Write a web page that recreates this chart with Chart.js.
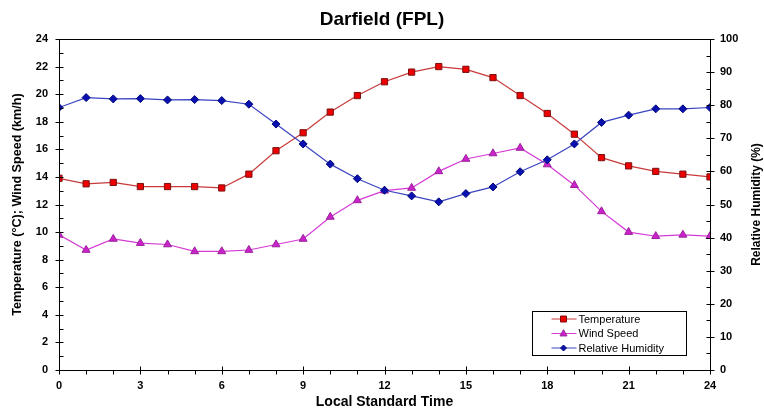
<!DOCTYPE html>
<html>
<head>
<meta charset="utf-8">
<script src="https://cdn.jsdelivr.net/npm/chart.js@4/dist/chart.umd.min.js"></script>
<style>
  html, body { margin: 0; padding: 0; background: #fff; }
  #wrap { width: 764px; height: 409px; position: relative; }
</style>
</head>
<body>
<div id="wrap"><canvas id="c" width="764" height="409"></canvas></div>
<script>
// Hourly readings, Darfield (FPL)
const hours = [0, 1, 2, 3, 4, 5, 6, 7, 8, 9, 10, 11, 12, 13, 14, 15, 16, 17, 18, 19, 20, 21, 22, 23, 24];
const temperature = [13.9, 13.5, 13.6, 13.3, 13.3, 13.3, 13.2, 14.2, 15.9, 17.2, 18.7, 19.9, 20.9, 21.6, 22.0, 21.8, 21.2, 19.9, 18.6, 17.1, 15.4, 14.8, 14.4, 14.2, 14.0];
const windSpeed = [9.8, 8.7, 9.5, 9.2, 9.1, 8.6, 8.6, 8.7, 9.1, 9.5, 11.1, 12.3, 13.0, 13.2, 14.4, 15.3, 15.7, 16.1, 14.9, 13.4, 11.5, 10.0, 9.7, 9.8, 9.7];
const humidity = [79.3, 82.3, 81.9, 82.0, 81.6, 81.7, 81.4, 80.3, 74.3, 68.3, 62.2, 57.8, 54.3, 52.6, 50.8, 53.3, 55.3, 59.9, 63.5, 68.3, 74.8, 77.0, 78.9, 78.9, 79.3];

const leftTicks = [0, 2, 4, 6, 8, 10, 12, 14, 16, 18, 20, 22, 24];
const rightTicks = [0, 10, 20, 30, 40, 50, 60, 70, 80, 90, 100];
const timeTicks = [0, 3, 6, 9, 12, 15, 18, 21, 24];

const FONT = 'Arial, "Liberation Sans", sans-serif';
const RIGHT_TITLE = 'Relative Humidity (%)';

function pts(values) {
  return hours.map((h, i) => ({ x: h, y: values[i] }));
}

// Draws one legend marker shape
function marker(ctx, style, x, y, r, fill, stroke) {
  ctx.beginPath();
  if (style === 'rect') {
    ctx.rect(x - r, y - r, 2 * r, 2 * r);
  } else if (style === 'triangle') {
    ctx.moveTo(x, y - r * 1.1);
    ctx.lineTo(x + r, y + r * 0.7);
    ctx.lineTo(x - r, y + r * 0.7);
    ctx.closePath();
  } else {
    ctx.moveTo(x, y - r);
    ctx.lineTo(x + r, y);
    ctx.lineTo(x, y + r);
    ctx.lineTo(x - r, y);
    ctx.closePath();
  }
  ctx.fillStyle = fill;
  ctx.fill();
  ctx.lineWidth = 1;
  ctx.strokeStyle = stroke;
  ctx.stroke();
}

// Plot frame, major/minor tick marks, right axis title and the boxed legend
const frame = {
  id: 'frame',
  afterDatasetsDraw(chart) {
    const { ctx, chartArea: a, scales } = chart;
    const L = Math.round(a.left) + 0.5, R = Math.round(a.right) + 0.5;
    const T = Math.round(a.top) + 0.5, B = Math.round(a.bottom) + 0.5;
    ctx.save();
    ctx.strokeStyle = '#000';
    ctx.lineWidth = 1;
    ctx.beginPath();
    ctx.moveTo(L, T); ctx.lineTo(R, T);
    ctx.moveTo(L, B); ctx.lineTo(R, B);
    ctx.moveTo(L, T); ctx.lineTo(L, B);
    ctx.moveTo(R, T); ctx.lineTo(R, B);
    // left axis: major every 2, minor every 1
    for (let v = 0; v <= 24; v++) {
      const p = Math.round(scales.y.getPixelForValue(v)) + 0.5;
      if (v % 2 === 0) { ctx.moveTo(L - 4, p); ctx.lineTo(L + 4, p); }
      else { ctx.moveTo(L, p); ctx.lineTo(L + 4, p); }
    }
    // right axis: major every 10, minor every 5
    for (let v = 0; v <= 100; v += 5) {
      const p = Math.round(scales.y1.getPixelForValue(v)) + 0.5;
      if (v % 10 === 0) { ctx.moveTo(R - 4, p); ctx.lineTo(R + 4, p); }
      else { ctx.moveTo(R - 4, p); ctx.lineTo(R, p); }
    }
    // time axis: major every 3, minor every 1
    for (let v = 0; v <= 24; v++) {
      const p = Math.round(scales.x.getPixelForValue(v)) + 0.5;
      if (v % 3 === 0) { ctx.moveTo(p, B - 4); ctx.lineTo(p, B + 4); }
      else { ctx.moveTo(p, B); ctx.lineTo(p, B + 4); }
    }
    ctx.stroke();

    // right axis title, reading bottom to top
    ctx.save();
    ctx.translate(757, (a.top + a.bottom) / 2);
    ctx.rotate(-Math.PI / 2);
    ctx.font = 'bold 12px ' + FONT;
    ctx.fillStyle = '#000';
    ctx.textAlign = 'center';
    ctx.textBaseline = 'middle';
    ctx.fillText(RIGHT_TITLE, 0, 0);
    ctx.restore();

    // legend
    const bx = 532.5, by = 311.5, bw = 154, bh = 44;
    ctx.fillStyle = '#fff';
    ctx.fillRect(bx, by, bw, bh);
    ctx.strokeStyle = '#000';
    ctx.strokeRect(bx, by, bw, bh);
    ctx.font = '11px ' + FONT;
    ctx.textBaseline = 'middle';
    chart.data.datasets.forEach((ds, i) => {
      const y = by + 7.5 + i * 14.5;
      ctx.beginPath();
      ctx.strokeStyle = ds.borderColor;
      ctx.lineWidth = 1;
      ctx.moveTo(bx + 19, y); ctx.lineTo(bx + 44, y);
      ctx.stroke();
      marker(ctx, ds.legendShape, bx + 31, y, ds.legendSize, ds.pointBackgroundColor, ds.pointBorderColor);
      ctx.fillStyle = '#000';
      ctx.fillText(ds.label, bx + 46, y + 0.5);
    });
    ctx.restore();
  }
};

const tickFont = { family: FONT, size: 11, weight: 'bold' };

new Chart(document.getElementById('c'), {
  type: 'line',
  data: {
    datasets: [
      {
        label: 'Temperature',
        data: pts(temperature),
        yAxisID: 'y',
        borderColor: '#c83a3a',
        borderWidth: 1.2,
        pointStyle: 'rect',
        pointRadius: 4.4,
        pointBackgroundColor: '#ee0000',
        pointBorderColor: '#7a1010',
        pointBorderWidth: 1,
        legendShape: 'rect',
        legendSize: 3,
        order: 3
      },
      {
        label: 'Wind Speed',
        data: pts(windSpeed),
        yAxisID: 'y',
        borderColor: '#d63ad6',
        borderWidth: 1.2,
        pointStyle: 'triangle',
        pointRadius: 4.6,
        pointBackgroundColor: '#cc22cc',
        pointBorderColor: '#992299',
        pointBorderWidth: 1,
        legendShape: 'triangle',
        legendSize: 3.5,
        order: 2
      },
      {
        label: 'Relative Humidity',
        data: pts(humidity),
        yAxisID: 'y1',
        borderColor: '#3a44c0',
        borderWidth: 1.2,
        pointStyle: 'rectRot',
        pointRadius: 4,
        pointBackgroundColor: '#0a10b0',
        pointBorderColor: '#00087a',
        pointBorderWidth: 1,
        legendShape: 'diamond',
        legendSize: 3,
        order: 1
      }
    ]
  },
  options: {
    responsive: false,
    animation: false,
    layout: { padding: 0 },
    plugins: {
      legend: { display: false },
      tooltip: { enabled: false },
      title: {
        display: true,
        text: 'Darfield (FPL)',
        color: '#000',
        font: { family: FONT, size: 19, weight: 'bold', lineHeight: 1.2 },
        padding: { top: 8, bottom: 8.2 }
      }
    },
    scales: {
      x: {
        type: 'linear',
        min: 0, max: 24,
        afterBuildTicks: s => { s.ticks = timeTicks.map(v => ({ value: v })); },
        afterFit: s => { s.height = 39; },
        grid: { display: false, drawTicks: false },
        border: { display: false },
        ticks: { color: '#000', font: tickFont, padding: 9, maxRotation: 0 },
        title: { display: true, text: 'Local Standard Time', color: '#000', font: { family: FONT, size: 14, weight: 'bold', lineHeight: 1.0 }, padding: 0 }
      },
      y: {
        position: 'left',
        min: 0, max: 24,
        afterBuildTicks: s => { s.ticks = leftTicks.map(v => ({ value: v })); },
        afterFit: s => { s.width = 59; },
        grid: { display: false, drawTicks: false },
        border: { display: false },
        ticks: { color: '#000', font: tickFont, padding: 11 },
        title: { display: true, text: 'Temperature (°C); Wind Speed (km/h)', color: '#000', font: { family: FONT, size: 12.6, weight: 'bold', lineHeight: 1.2 }, padding: { top: 10, bottom: 0 } }
      },
      y1: {
        position: 'right',
        min: 0, max: 100,
        afterBuildTicks: s => { s.ticks = rightTicks.map(v => ({ value: v })); },
        afterFit: s => { s.width = 54; },
        grid: { display: false, drawTicks: false },
        border: { display: false },
        ticks: { color: '#000', font: tickFont, padding: 10 },
        title: { display: false }
      }
    }
  },
  plugins: [frame]
});
</script>
</body>
</html>
